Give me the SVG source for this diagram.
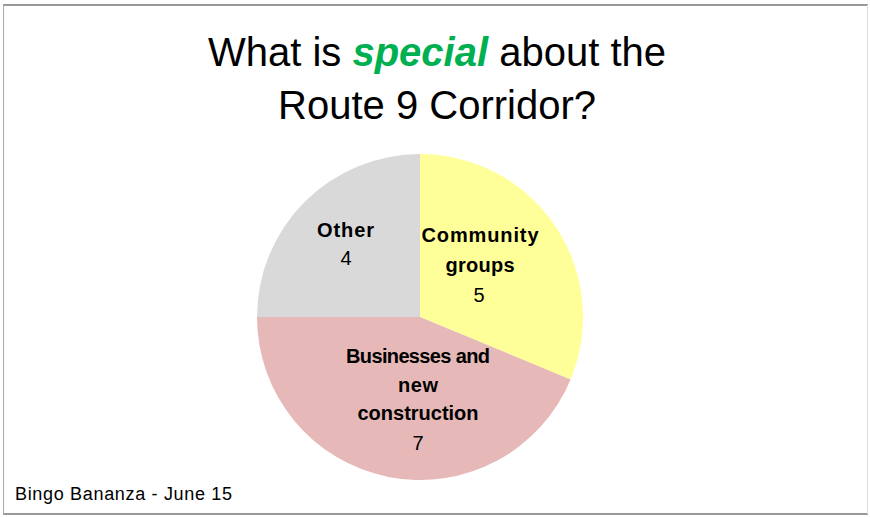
<svg xmlns="http://www.w3.org/2000/svg" width="870" height="517" viewBox="0 0 870 517">
<style>
.t{font-family:"Liberation Sans",Arial,sans-serif;fill:#000}
.title{font-size:40px}
.lb{font-size:20px;font-weight:bold}
.num{font-size:20px}
.ft{font-size:18px}
</style>
<rect x="0" y="0" width="870" height="517" fill="#fff"/>
<g id="frame">
<line x1="3" y1="5" x2="868" y2="5" stroke="#999" stroke-width="2"/>
<line x1="3" y1="514" x2="868" y2="514" stroke="#999" stroke-width="2"/>
<line x1="3.5" y1="5" x2="3.5" y2="514" stroke="#aaa" stroke-width="1"/>
<line x1="867.5" y1="5" x2="867.5" y2="514" stroke="#ddd" stroke-width="1"/>
</g>
<g id="title">
<text class="t title" x="437" y="66" text-anchor="middle">What is <tspan fill="#00B050" font-weight="bold" font-style="italic">special</tspan> about the</text>
<text class="t title" x="437" y="119" text-anchor="middle">Route 9 Corridor?</text>
</g>
<g id="slice-community">
<path d="M420,317 L420,154 A163,163 0 0 1 570.6,379.4 Z" fill="#FFFF99"/>
<text class="t lb" x="480" y="242" text-anchor="middle" textLength="117">Community</text>
<text class="t lb" x="480" y="271.5" text-anchor="middle" textLength="69">groups</text>
<text class="t num" x="479" y="301.5" text-anchor="middle">5</text>
</g>
<g id="slice-business">
<path d="M420,317 L570.6,379.4 A163,163 0 0 1 257,317 Z" fill="#E6B9B8"/>
<text class="t lb" x="418" y="363" text-anchor="middle" textLength="144">Businesses and</text>
<text class="t lb" x="418" y="391.5" text-anchor="middle" textLength="40">new</text>
<text class="t lb" x="418" y="420" text-anchor="middle" textLength="121">construction</text>
<text class="t num" x="418" y="450" text-anchor="middle">7</text>
</g>
<g id="slice-other">
<path d="M420,317 L257,317 A163,163 0 0 1 420,154 Z" fill="#D9D9D9"/>
<text class="t lb" x="345.5" y="236.5" text-anchor="middle" textLength="57">Other</text>
<text class="t num" x="346" y="265" text-anchor="middle">4</text>
</g>
<g id="footer">
<text class="t ft" x="15" y="500" textLength="217">Bingo Bananza - June 15</text>
</g>
</svg>
